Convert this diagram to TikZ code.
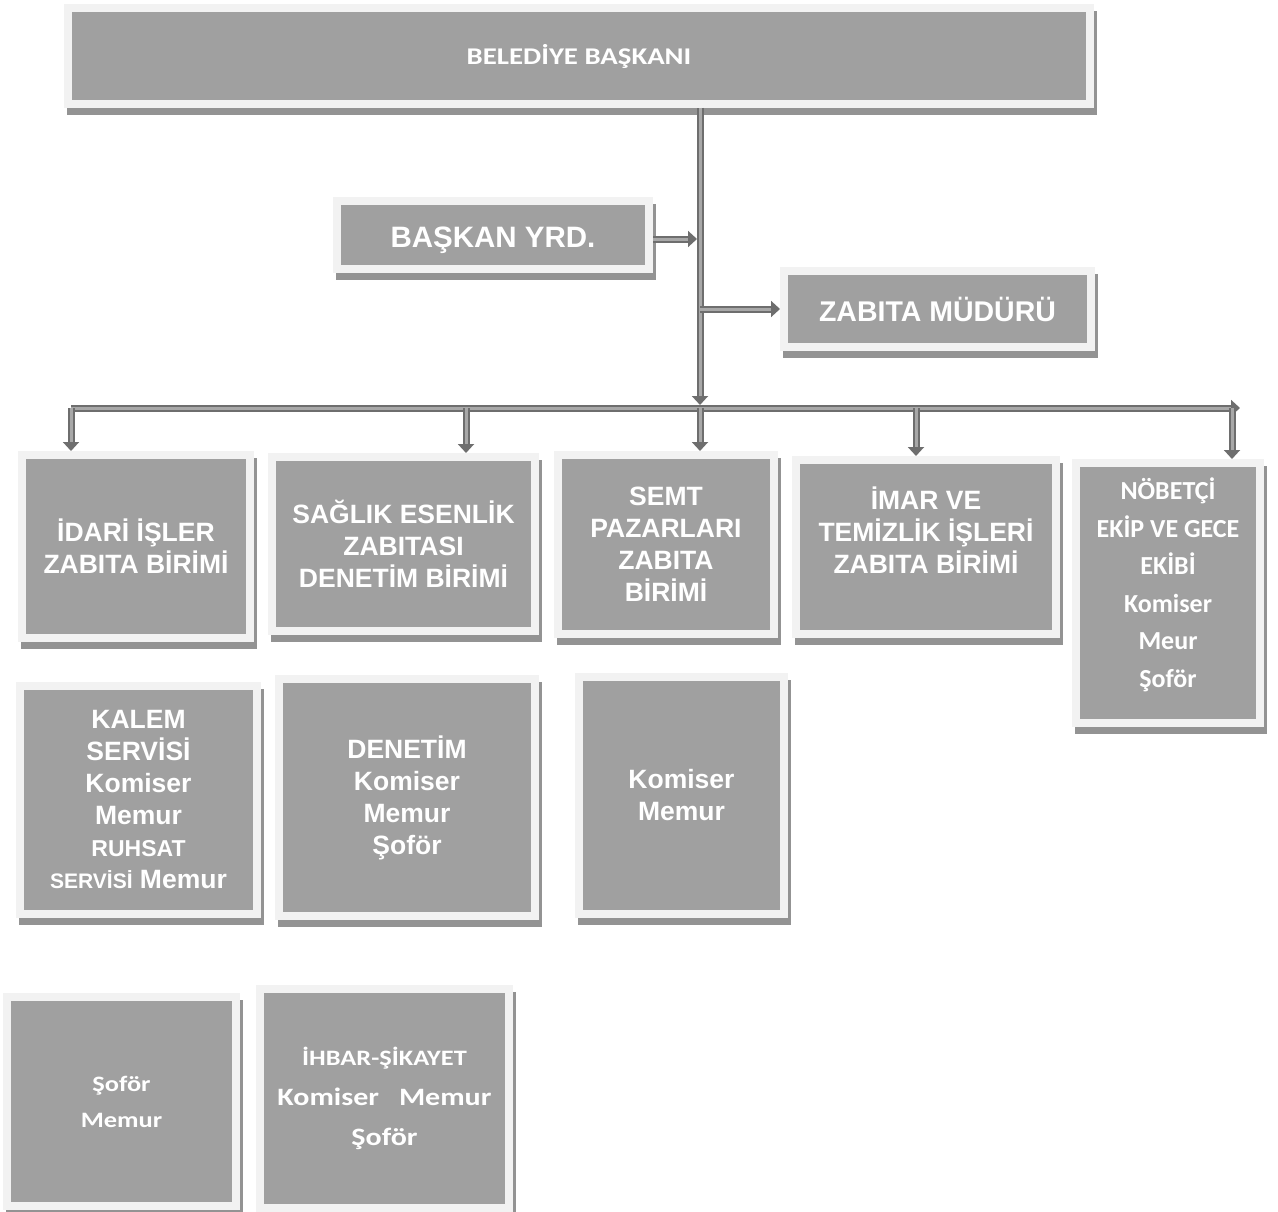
\documentclass[tikz,border=0pt]{standalone}
\usepackage{fontspec}
\setmainfont{Liberation Sans}
\newfontfamily\calfont{Carlito}
\newfontfamily\calwide[FakeStretch=1.2]{Carlito}
\usetikzlibrary{arrows.meta, shadows}

\definecolor{boxgray}{HTML}{A0A0A0}
\definecolor{framegray}{HTML}{F2F2F2}
\definecolor{shadowgray}{HTML}{939393}
\definecolor{linegray}{HTML}{6E6E6E}
\definecolor{linelight}{HTML}{A8A8A8}

\tikzset{
  orgbox/.style={draw=framegray, line width=8pt, fill=boxgray, text=white,
    align=center, inner sep=0pt, outer sep=4pt,
    drop shadow={shadow xshift=3pt, shadow yshift=-7pt, fill=shadowgray,
      draw=shadowgray, line width=8pt, opacity=1}},
  ariblk/.style={font=\bfseries\fontsize{26.5}{32}\selectfont},
  conn/.style={draw=linegray, line width=2pt, double=linelight, double distance=3pt},
  arr/.style={conn, -{Triangle[width=16pt,length=9pt]}},
}

\begin{document}
\begin{tikzpicture}[x=1pt, y=-1pt]
  \useasboundingbox (0,0) rectangle (1278,1212);

  % top level
  \node[orgbox, minimum width=1022pt, minimum height=96pt,
        font=\calwide\bfseries\fontsize{24}{29}\selectfont] (baskan) at (579,56) {BELEDİYE BAŞKANI};
  \node[orgbox, minimum width=312pt, minimum height=68pt,
        font=\bfseries\fontsize{29.5}{34}\selectfont] (yrd) at (493,235)
    {\raisebox{-5pt}[\height][\depth]{BAŞKAN YRD.}};
  \node[orgbox, minimum width=307pt, minimum height=76pt,
        font=\bfseries\fontsize{28.5}{34}\selectfont] (mudur) at (937.5,309) {ZABITA MÜDÜRÜ};

  % units
  \node[orgbox, ariblk, minimum width=228pt, minimum height=183pt] (idari) at (136,546.5)
    {İDARİ İŞLER\\ZABITA BİRİMİ};
  \node[orgbox, ariblk, minimum width=263pt, minimum height=174pt] (saglik) at (403.5,544)
    {SAĞLIK ESENLİK\\ZABITASI\\DENETİM BİRİMİ};
  \node[orgbox, ariblk, minimum width=216pt, minimum height=179pt] (semt) at (666,544.5)
    {SEMT\\PAZARLARI\\ZABITA\\BİRİMİ};
  \node[orgbox, ariblk, minimum width=260pt, minimum height=174pt] (imar) at (926,547)
    {İMAR VE\\TEMİZLİK İŞLERİ\\ZABITA BİRİMİ\\[-8pt]\strut};
  \node[orgbox, minimum width=184pt, minimum height=260pt,
        font=\calfont\bfseries\fontsize{26}{37.5}\selectfont] (nobet) at (1168,593)
    {NÖBETÇİ\\EKİP VE GECE\\EKİBİ\\Komiser\\Meur\\Şoför\\[-28pt]\strut};

  % staff
  \node[orgbox, ariblk, minimum width=237pt, minimum height=228pt] (kalem) at (138.5,800)
    {KALEM\\SERVİSİ\\Komiser\\Memur\\{\fontsize{23}{32}\selectfont RUHSAT}\\{\fontsize{21}{32}\selectfont SERVİSİ} Memur};
  \node[orgbox, ariblk, minimum width=256pt, minimum height=237pt] (denetim) at (407,797.5)
    {DENETİM\\Komiser\\Memur\\Şoför};
  \node[orgbox, ariblk, minimum width=205pt, minimum height=237pt] (semtper) at (681.5,795.5)
    {Komiser\\Memur};
  \node[orgbox, minimum width=229pt, minimum height=209pt,
        font=\calwide\bfseries\fontsize{22}{36}\selectfont] (sofor) at (121.5,1101.5)
    {Şoför\\Memur};
  \node[orgbox, minimum width=249pt, minimum height=219pt,
        font=\calwide\bfseries\fontsize{25}{40}\selectfont] (ihbar) at (384.5,1098.5)
    {{\fontsize{22}{40}\selectfont İHBAR-ŞİKAYET}\\Komiser\hspace{20pt}Memur\\Şoför};

  % connectors
  \coordinate (trunk) at (700,408);
  \coordinate (busl) at (71,408);
  \coordinate (busr) at (1240,408);
  \coordinate (b2) at (466,408);
  \coordinate (b4) at (916,408);
  \coordinate (b5) at (1232,408);

  \draw[arr, shorten >=3pt] (baskan.south -| trunk) -- (trunk);
  \draw[arr, shorten >=3pt] ([yshift=-4pt]yrd.east) -- ([yshift=-4pt]yrd.east -| trunk);
  \draw[arr] (mudur.west -| trunk) -- (mudur.west);
  \draw[arr] (busl) -- (busr);
  \draw[arr] (busl) -- (busl |- idari.north);
  \draw[arr] (b2) -- (b2 |- saglik.north);
  \draw[arr] (trunk) -- (trunk |- semt.north);
  \draw[arr] (b4) -- (b4 |- imar.north);
  \draw[arr] (b5) -- (b5 |- nobet.north);
\end{tikzpicture}
\end{document}
